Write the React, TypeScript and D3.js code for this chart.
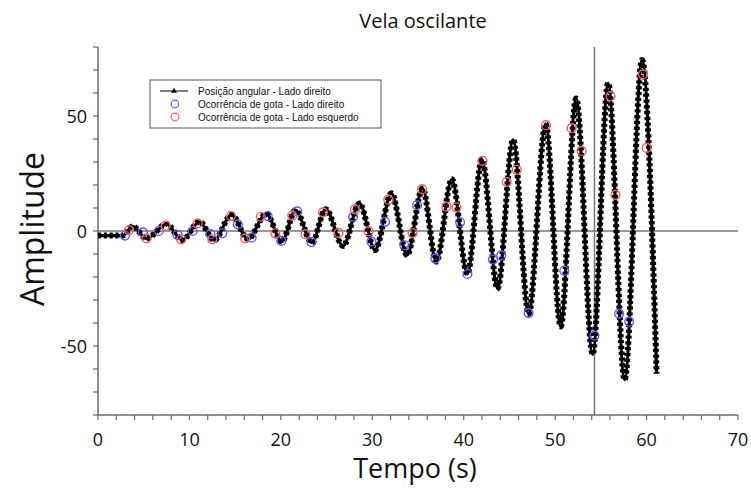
import React from 'react';
import * as d3 from 'd3';

// Black curve: angular position (extrema)
const lineT = [0, 2.7, 3.8, 5.3, 7.5, 9.2, 11.1, 12.7, 14.6, 16.4, 18.4, 20.1, 21.6, 23.4, 24.9, 26.8, 28.6, 30.3, 32.1, 33.8, 35.5, 37.0, 38.7, 40.4, 42.0, 43.7, 45.4, 47.1, 48.96, 50.6, 52.3, 54.1, 55.8, 57.6, 59.5, 61.1];
const lineA = [-2, -2, 2, -3.3, 3, -3.9, 4, -4, 7, -3.5, 7.5, -4.6, 9, -5, 9.5, -6.5, 12, -8.3, 16.4, -10.5, 18.5, -13.3, 22.5, -18.6, 31, -25, 39.6, -36, 46.5, -41.5, 57.6, -53.6, 64.3, -64.6, 74.3, -62];

// Blue circles: drop occurrence, right side
const rightT = [2.95, 4.9, 6.67, 8.7, 10.35, 12.3, 13.6, 15.3, 16.8, 18.55, 20.05, 21.8, 23.35, 27.9, 29.9, 31.4, 33.5, 34.9, 36.9, 39.6, 40.4, 43.2, 44.1, 47.1, 51.0, 54.3, 57.0, 58.1];
const rightA = [-2.0, -0.6, 0, -1.7, 0, -1.4, -1.0, 2.9, -2.9, 6.5, -4.3, 8.5, -4.8, 6.2, -4.6, 4.0, -6.2, 11.2, -12, 3.8, -18.7, -12.4, -10.6, -35.7, -17.3, -45.5, -35.9, -39.4];

// Red circles: drop occurrence, left side
const leftT = [3.4, 5.3, 7.4, 9.1, 10.9, 12.5, 14.55, 16.1, 17.8, 19.4, 21.25, 22.7, 24.6, 26.3, 28.1, 29.6, 31.75, 34.4, 35.45, 38.1, 39.2, 42.05, 44.7, 45.8, 49.0, 51.8, 52.9, 56.05, 56.6, 59.6, 60.0];
const leftA = [0.4, -3.2, 2.3, -3.6, 3.3, -3.6, 6.5, -3.2, 6.2, -1.0, 6.7, -1.4, 8.1, -0.8, 9.4, -0.2, 13.6, -0.9, 18.2, 10.6, 10.3, 30.5, 21.3, 26.6, 46, 44.7, 34.8, 58.6, 15.7, 68.1, 36.1];

const xTickLabels = [0, 10, 20, 30, 40, 50, 60, 70];
const yTickLabels = [-50, 0, 50];
const cursorT = 54.3;

const legendLabels = [
  'Posição angular - Lado direito',
  'Ocorrência de gota - Lado direito',
  'Ocorrência de gota - Lado esquerdo',
];

const title = 'Vela oscilante';
const xTitle = 'Tempo (s)';
const yTitle = 'Amplitude';

const BLUE = '#5c5cff';
const RED = '#ff5c5c';
const AXIS = '#6a6a6a';
const FONT = '"Open Sans", "Noto Sans", sans-serif';

export default function App() {
  const W = 751;
  const H = 492;
  const x = d3.scaleLinear().domain([0, 70]).range([98, 738]);
  const y = d3.scaleLinear().domain([-80, 80]).range([415, 47]);

  const line = d3
    .line<number>()
    .x((_, i) => x(lineT[i]))
    .y((d) => y(d))
    .curve(d3.curveMonotoneX);
  const pathD = line(lineA) || '';

  const xMinor = d3.range(0, 70.001, 2);
  const yMinor = d3.range(-80, 80.001, 10);
  const tri = d3.symbol(d3.symbolTriangle, 14)() || '';

  const lx = 150, ly = 80, lw = 231, lh = 48;

  return (
    <svg
      width={W}
      height={H}
      style={{ position: 'absolute', left: 0, top: 0, background: '#fff' }}
      fontFamily={FONT}
    >
      <rect x={0} y={0} width={W} height={H} fill="#fff" />
      {/* title */}
      <text x={423} y={28} textAnchor="middle" fontSize={20} fill="#111">
        {title}
      </text>

      {/* zero line and cursor */}
      <line x1={x(0)} x2={x(70)} y1={y(0)} y2={y(0)} stroke="#777" strokeWidth={1.5} />
      <line x1={x(cursorT)} x2={x(cursorT)} y1={y(80)} y2={y(-80)} stroke="#777" strokeWidth={1.5} />

      {/* axes */}
      <line x1={x(0)} x2={x(0)} y1={y(80)} y2={y(-80)} stroke={AXIS} strokeWidth={1.5} />
      <line x1={x(0)} x2={x(70)} y1={y(-80)} y2={y(-80)} stroke={AXIS} strokeWidth={1.5} />
      {xMinor.map((t) => (
        <line key={'xm' + t} x1={x(t)} x2={x(t)} y1={y(-80)} y2={y(-80) + 5} stroke={AXIS} strokeWidth={1.2} />
      ))}
      {yMinor.map((v) => (
        <line key={'ym' + v} x1={x(0) - 5} x2={x(0)} y1={y(v)} y2={y(v)} stroke={AXIS} strokeWidth={1.2} />
      ))}
      {xTickLabels.map((t) => (
        <text key={'xl' + t} x={x(t)} y={446} textAnchor="middle" fontSize={18} fill="#111">
          {t}
        </text>
      ))}
      {yTickLabels.map((v) => (
        <text key={'yl' + v} x={87} y={y(v) + 6.5} textAnchor="end" fontSize={18} fill="#111">
          {v}
        </text>
      ))}
      <text x={415} y={478} textAnchor="middle" fontSize={27} fill="#111">
        {xTitle}
      </text>
      <text
        transform={`translate(44, ${229}) rotate(-90)`}
        textAnchor="middle"
        fontSize={32}
        fill="#111"
      >
        {yTitle}
      </text>

      {/* curve */}
      <path d={pathD} fill="none" stroke="#000" strokeWidth={3.2} />
      <path d={pathD} fill="none" stroke="#000" strokeWidth={6} strokeDasharray="3.2 2.6" />

      {/* drop occurrences */}
      {rightT.map((t, i) => (
        <circle key={'r' + i} cx={x(t)} cy={y(rightA[i])} r={4.4} fill="none" stroke={BLUE} strokeWidth={1.4} />
      ))}
      {leftT.map((t, i) => (
        <circle key={'l' + i} cx={x(t)} cy={y(leftA[i])} r={4.4} fill="none" stroke={RED} strokeWidth={1.4} />
      ))}

      {/* legend */}
      <g fontFamily='"Liberation Sans", Arial, sans-serif' fontSize={10} fill="#111">
        <rect x={lx} y={ly} width={lw} height={lh} fill="#fff" stroke="#555" strokeWidth={1} />
        <line x1={lx + 10} x2={lx + 38} y1={ly + 11} y2={ly + 11} stroke="#000" strokeWidth={1} />
        <path d={tri} transform={`translate(${lx + 24}, ${ly + 11})`} fill="#000" />
        <circle cx={lx + 25} cy={ly + 24} r={3.8} fill="none" stroke={BLUE} strokeWidth={1.2} />
        <circle cx={lx + 25} cy={ly + 37} r={3.8} fill="none" stroke={RED} strokeWidth={1.2} />
        {legendLabels.map((s, i) => (
          <text key={s} x={lx + 48} y={ly + 15 + i * 13}>
            {s}
          </text>
        ))}
      </g>
    </svg>
  );
}
